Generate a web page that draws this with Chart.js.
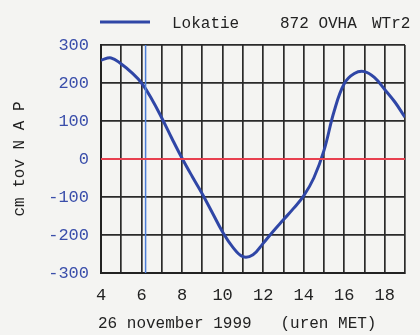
<!DOCTYPE html>
<html>
<head>
<meta charset="utf-8">
<script src="https://cdn.jsdelivr.net/npm/chart.js@4/dist/chart.umd.min.js"></script>
<style>
  html, body { margin: 0; padding: 0; background: #f4f4f2; }
  #wrap { width: 420px; height: 335px; }
</style>
</head>
<body>
<div id="wrap"><canvas id="chart"></canvas></div>
<script>
// waterstand per half uur (cm t.o.v. NAP)
const hours = [4, 4.5, 5, 5.5, 6, 6.5, 7, 7.5, 8, 8.5, 9, 9.5, 10, 10.5, 11, 11.5,
  12, 12.5, 13, 13.5, 14, 14.5, 15, 15.5, 16, 16.5, 17, 17.5, 18, 18.5, 19];
const levels = [260, 266, 250, 228, 200, 158, 108, 54, 2, -46, -92, -142, -192, -232, -257, -252,
  -222, -190, -160, -130, -97, -50, 22, 125, 198, 225, 230, 214, 183, 150, 110];
const nowHour = 6.2;
const yTicks = [-300, -200, -100, 0, 100, 200, 300];
const xLabels = [4, 6, 8, 10, 12, 14, 16, 18];
const headerTexts = ['Lokatie', '872 OVHA', 'WTr2'];
const yTitle = 'cm tov N A P';
const xTitle = '26 november 1999   (uren MET)';

const FONT = "'Liberation Mono', 'DejaVu Sans Mono', monospace";

// titels en kopregel zelf tekenen
const textPlugin = {
  id: 'texts',
  afterDraw(chart) {
    const ctx = chart.ctx;
    const area = chart.chartArea;
    ctx.save();
    ctx.font = '16px ' + FONT;
    ctx.fillStyle = '#222';
    ctx.textBaseline = 'middle';

    // kopregel met lijntje
    ctx.strokeStyle = '#2f46a6';
    ctx.lineWidth = 3;
    ctx.beginPath();
    ctx.moveTo(area.left - 1, 22);
    ctx.lineTo(area.left + 49, 22);
    ctx.stroke();
    ctx.textAlign = 'left';
    ctx.fillText(headerTexts[0], 172, 24);
    ctx.fillText(headerTexts[1], 280, 24);
    ctx.fillText(headerTexts[2], 372, 24);

    // x-titel
    ctx.fillText(xTitle, 98, 324);

    // y-titel
    ctx.translate(20, (area.top + area.bottom) / 2);
    ctx.rotate(-Math.PI / 2);
    ctx.textAlign = 'center';
    ctx.fillText(yTitle, 0, 0);
    ctx.restore();
  }
};

new Chart(document.getElementById('chart'), {
  type: 'line',
  data: {
    datasets: [
      {
        label: 'nul',
        data: [{ x: 4, y: 0 }, { x: 19, y: 0 }],
        borderColor: '#e8404f',
        borderWidth: 2,
        pointRadius: 0
      },
      {
        label: 'nu',
        data: [{ x: nowHour, y: -300 }, { x: nowHour, y: 300 }],
        borderColor: '#4d7fd8',
        borderWidth: 1.5,
        pointRadius: 0
      },
      {
        label: 'Lokatie',
        data: hours.map((h, i) => ({ x: h, y: levels[i] })),
        borderColor: '#2f46a6',
        borderWidth: 3,
        pointRadius: 0,
        tension: 0.4
      }
    ]
  },
  options: {
    responsive: true,
    maintainAspectRatio: false,
    animation: false,
    layout: { padding: { top: 45, right: 15, left: 0, bottom: 0 } },
    plugins: { legend: { display: false }, tooltip: { enabled: false } },
    scales: {
      x: {
        type: 'linear',
        min: 4,
        max: 19,
        afterFit(scale) { scale.height = 62; },
        afterBuildTicks(scale) {
          scale.ticks = [];
          for (let h = 4; h <= 19; h++) scale.ticks.push({ value: h });
        },
        ticks: {
          padding: 12,
          color: '#222',
          font: { family: FONT, size: 17 },
          maxRotation: 0,
          autoSkip: false,
          callback: v => xLabels.includes(v) ? String(v) : ''
        },
        grid: { color: '#2a2a2a', lineWidth: 1.7, drawTicks: false },
        border: { color: '#222', width: 2 }
      },
      y: {
        min: -300,
        max: 300,
        afterFit(scale) { scale.width = 101; },
        afterBuildTicks(scale) {
          scale.ticks = yTicks.map(v => ({ value: v }));
        },
        ticks: {
          padding: 12,
          color: '#3a4eaa',
          font: { family: FONT, size: 17 }
        },
        grid: { color: '#2a2a2a', lineWidth: 1.7, drawTicks: false },
        border: { color: '#222', width: 2 }
      }
    }
  },
  plugins: [textPlugin]
});
</script>
</body>
</html>
